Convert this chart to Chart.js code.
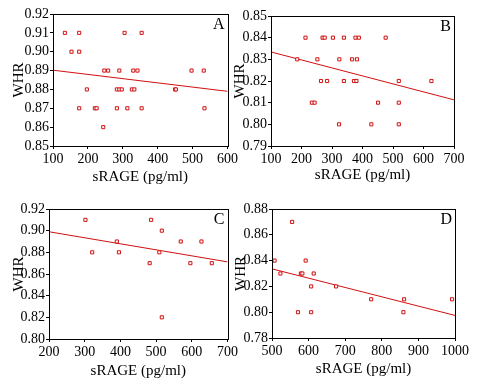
<!DOCTYPE html>
<html>
<head>
<meta charset="utf-8">
<script src="https://cdn.jsdelivr.net/npm/chart.js@4"></script>
<style>
  html, body { margin: 0; padding: 0; background: #fff; }
  #wrap { position: relative; width: 479px; height: 384px; overflow: hidden; }
  .panel { position: absolute; }
</style>
</head>
<body>
<div id="wrap">
  <div class="panel" style="left:0;top:0;width:240px;height:190px"><canvas id="cA"></canvas></div>
  <div class="panel" style="left:220px;top:0;width:259px;height:190px"><canvas id="cB"></canvas></div>
  <div class="panel" style="left:0;top:190px;width:240px;height:194px"><canvas id="cC"></canvas></div>
  <div class="panel" style="left:220px;top:190px;width:259px;height:194px"><canvas id="cD"></canvas></div>
</div>
<script>
// Panel A
const aX = [134, 175, 305, 354, 153, 175, 247, 258, 290, 330, 342, 497, 532,
            197, 283, 290, 297, 326, 333, 450, 452, 175, 220, 225, 283, 313, 354, 534, 244];
const aY = [0.91, 0.91, 0.91, 0.91, 0.90, 0.90, 0.89, 0.89, 0.89, 0.89, 0.89, 0.89, 0.89,
            0.88, 0.88, 0.88, 0.88, 0.88, 0.88, 0.88, 0.88, 0.87, 0.87, 0.87, 0.87, 0.87, 0.87, 0.87, 0.86];
const aTrendX = [100, 600];
const aTrendY = [0.8902, 0.8790];

// Panel B
const bX = [213, 269, 276, 303, 339, 377, 388, 476, 186, 252, 324, 366, 382,
            264, 284, 339, 372, 380, 519, 626, 234, 243, 451, 519, 323, 429, 519];
const bY = [0.84, 0.84, 0.84, 0.84, 0.84, 0.84, 0.84, 0.84, 0.83, 0.83, 0.83, 0.83, 0.83,
            0.82, 0.82, 0.82, 0.82, 0.82, 0.82, 0.82, 0.81, 0.81, 0.81, 0.81, 0.80, 0.80, 0.80];
const bTrendX = [100, 700];
const bTrendY = [0.8334, 0.8113];

// Panel C
const cX = [302, 321, 390, 396, 482, 486, 509, 516, 516, 569, 596, 627, 656];
const cY = [0.91, 0.88, 0.89, 0.88, 0.87, 0.91, 0.88, 0.90, 0.82, 0.89, 0.87, 0.89, 0.87];
const cTrendX = [200, 700];
const cTrendY = [0.8990, 0.8712];

// Panel D
const dX = [507, 523, 555, 571, 579, 583, 592, 607, 607, 614, 675, 771, 859, 861, 992];
const dY = [0.84, 0.83, 0.87, 0.80, 0.83, 0.83, 0.84, 0.80, 0.82, 0.83, 0.82, 0.81, 0.80, 0.81, 0.81];
const dTrendX = [500, 1000];
const dTrendY = [0.8336, 0.7975];

const ROJO = '#d01010';
const FUENTE = '"Liberation Serif", "Times New Roman", serif';

const marcoPlugin = {
    id: 'marco',
    afterDraw(chart, args, opts) {
        const { ctx, chartArea: a } = chart;
        ctx.save();
        ctx.strokeStyle = '#000';
        ctx.lineWidth = 1;
        ctx.strokeRect(Math.round(a.left) + 0.5, Math.round(a.top) + 0.5,
            Math.round(a.right - a.left), Math.round(a.bottom - a.top));
        ctx.fillStyle = '#000';
        ctx.font = '16px ' + FUENTE;
        ctx.textAlign = 'right';
        ctx.textBaseline = 'top';
        ctx.fillText(opts.letra, a.right - 3, a.top + 3);
        ctx.restore();
    }
};

function crearPanel(id, cfg) {
    const puntos = cfg.x.map((v, i) => ({ x: v, y: cfg.y[i] }));
    const tendencia = cfg.tx.map((v, i) => ({ x: v, y: cfg.ty[i] }));

    new Chart(document.getElementById(id).getContext('2d'), {
        type: 'scatter',
        data: {
            datasets: [
                {
                    data: puntos,
                    pointStyle: 'rect',
                    pointRadius: 2.2,
                    borderColor: ROJO,
                    backgroundColor: '#fff',
                    borderWidth: 1
                },
                {
                    type: 'line',
                    data: tendencia,
                    borderColor: ROJO,
                    borderWidth: 1,
                    pointRadius: 0,
                    fill: false
                }
            ]
        },
        options: {
            responsive: true,
            maintainAspectRatio: false,
            animation: false,
            layout: { padding: { top: cfg.top, right: cfg.right, left: 0, bottom: 0 } },
            plugins: {
                legend: { display: false },
                tooltip: { enabled: false },
                marco: { letra: cfg.letra }
            },
            scales: {
                x: {
                    type: 'linear',
                    min: cfg.xmin, max: cfg.xmax,
                    afterFit(scale) { scale.height = cfg.xh; },
                    ticks: {
                        stepSize: cfg.xstep,
                        autoSkip: false,
                        color: '#000',
                        padding: 2,
                        maxRotation: 0,
                        font: { family: FUENTE, size: 14 },
                        callback: v => String(v)
                    },
                    grid: { display: true, drawOnChartArea: false, tickLength: 3, color: '#000' },
                    border: { color: '#000' },
                    title: {
                        display: true,
                        text: 'sRAGE (pg/ml)',
                        color: '#000',
                        padding: { top: 0, bottom: cfg.xtb },
                        font: { family: FUENTE, size: 15 }
                    }
                },
                y: {
                    type: 'linear',
                    min: cfg.ymin, max: cfg.ymax,
                    afterFit(scale) { scale.width = cfg.yw; },
                    ticks: {
                        stepSize: cfg.ystep,
                        autoSkip: false,
                        color: '#000',
                        padding: 1,
                        font: { family: FUENTE, size: 14 },
                        callback: v => v.toFixed(2)
                    },
                    grid: { display: true, drawOnChartArea: false, tickLength: 3, color: '#000' },
                    border: { color: '#000' },
                    title: {
                        display: true,
                        text: 'WHR',
                        color: '#000',
                        padding: { top: cfg.ytp, bottom: 0 },
                        font: { family: FUENTE, size: 15 }
                    }
                }
            }
        },
        plugins: [marcoPlugin]
    });
}

crearPanel('cA', { x: aX, y: aY, tx: aTrendX, ty: aTrendY, letra: 'A',
    xmin: 100, xmax: 600, xstep: 100, ymin: 0.85, ymax: 0.92, ystep: 0.01,
    top: 14, right: 9, yw: 53, xh: 44, ytp: 10, xtb: 4 });

crearPanel('cB', { x: bX, y: bY, tx: bTrendX, ty: bTrendY, letra: 'B',
    xmin: 100, xmax: 700, xstep: 100, ymin: 0.79, ymax: 0.85, ystep: 0.01,
    top: 16, right: 25, yw: 51, xh: 44, ytp: 11, xtb: 6 });

crearPanel('cC', { x: cX, y: cY, tx: cTrendX, ty: cTrendY, letra: 'C',
    xmin: 200, xmax: 700, xstep: 100, ymin: 0.80, ymax: 0.92, ystep: 0.02,
    top: 19, right: 9, yw: 49, xh: 45, ytp: 10, xtb: 4 });

crearPanel('cD', { x: dX, y: dY, tx: dTrendX, ty: dTrendY, letra: 'D',
    xmin: 500, xmax: 1000, xstep: 100, ymin: 0.78, ymax: 0.88, ystep: 0.02,
    top: 19, right: 24, yw: 52, xh: 46, ytp: 12, xtb: 6 });
</script>
</body>
</html>
